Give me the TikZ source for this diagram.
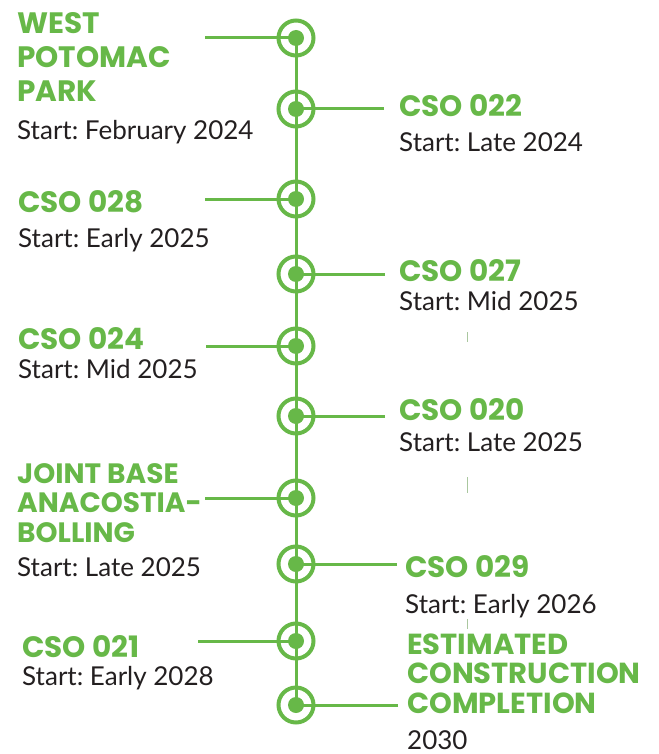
\documentclass[tikz,border=0pt]{standalone}
\usepackage{fontspec}
\setmainfont{Lato}
\newfontfamily\headfont{Poppins}
\usetikzlibrary{positioning}
\frenchspacing

\definecolor{tlgreen}{RGB}{103,184,72}
\definecolor{tltext}{RGB}{35,31,32}

\tikzset{
  ring/.style={circle, draw=tlgreen, line width=4pt, minimum size=35pt, inner sep=0pt},
  hub/.style={circle, fill=tlgreen, minimum size=16pt, inner sep=0pt},
  link/.style={draw=tlgreen, line width=3pt},
  site/.style={anchor=base west, inner sep=0pt, text=tlgreen, align=left,
    font=\headfont\bfseries\fontsize{29.5}{34}\selectfont},
  sitetight/.style={site, font=\headfont\bfseries\fontsize{29}{29.5}\selectfont},
  when/.style={anchor=base west, inner sep=0pt, text=tltext, font=\fontsize{26}{30}\selectfont},
  tick/.style={draw=tlgreen!60!gray!60, line width=0.8pt}
}

\begin{document}
\begin{tikzpicture}[x=1pt, y=-1pt]
  \useasboundingbox (0,0) rectangle (658,754);

  % markers on the spine
  \foreach \y [count=\i] in {38,109,199,274,346,416,498,564,641,705} {
    \node[ring] (r\i) at (296,\y) {};
    \node[hub] (h\i) at (296,\y) {};
  }
  \draw[link] (h1.center) -- (h10.center);

  % free ends of the branches
  \coordinate (b1) at (205,38);
  \coordinate (b2) at (384,109);
  \coordinate (b3) at (205,199);
  \coordinate (b4) at (385,274);
  \coordinate (b5) at (206,346);
  \coordinate (b6) at (385,416);
  \coordinate (b7) at (205,498);
  \coordinate (b8) at (397,564);
  \coordinate (b9) at (198,641);
  \coordinate (b10) at (398,705);
  \foreach \i in {1,...,10}
    \draw[link] (b\i) -- (h\i.center);

  % labels (multi-line ones sit on their last baseline)
  \node[site] (s1) at (17,102) {WEST\\POTOMAC\\PARK};
  \node[when] (w1) at (17,140) {Start: February 2024};
  \node[site] (s2) at (399,117) {CSO 022};
  \node[when] (w2) at (399,152) {Start: Late 2024};
  \node[site] (s3) at (18,212) {CSO 028};
  \node[when] (w3) at (18,247) {Start: Early 2025};
  \node[site] (s4) at (399,281) {CSO 027};
  \node[when] (w4) at (399,310) {Start: Mid 2025};
  \node[site] (s5) at (18,349) {CSO 024};
  \node[when] (w5) at (18,378) {Start: Mid 2025};
  \node[site] (s6) at (399,420) {CSO 020};
  \node[when] (w6) at (399,451) {Start: Late 2025};
  \node[sitetight, font=\headfont\bfseries\fontsize{28}{29.5}\selectfont] (s7) at (17,542) {JOINT BASE\\ANACOSTIA-\\BOLLING};
  \node[when] (w7) at (17,576) {Start: Late 2025};
  \node[site] (s8) at (405,577) {CSO 029};
  \node[when] (w8) at (405,613) {Start: Early 2026};
  \node[site] (s9) at (22,657) {CSO 021};
  \node[when] (w9) at (22,685) {Start: Early 2028};
  \node[sitetight] (s10) at (407,713) {ESTIMATED\\CONSTRUCTION\\COMPLETION};
  \node[when] (w10) at (407,749) {2030};

  \draw[tick] (467,332) -- (467,342);
  \draw[tick] (467,477) -- (467,493);
  \draw[tick] (467,619) -- (467,629);
\end{tikzpicture}
\end{document}
